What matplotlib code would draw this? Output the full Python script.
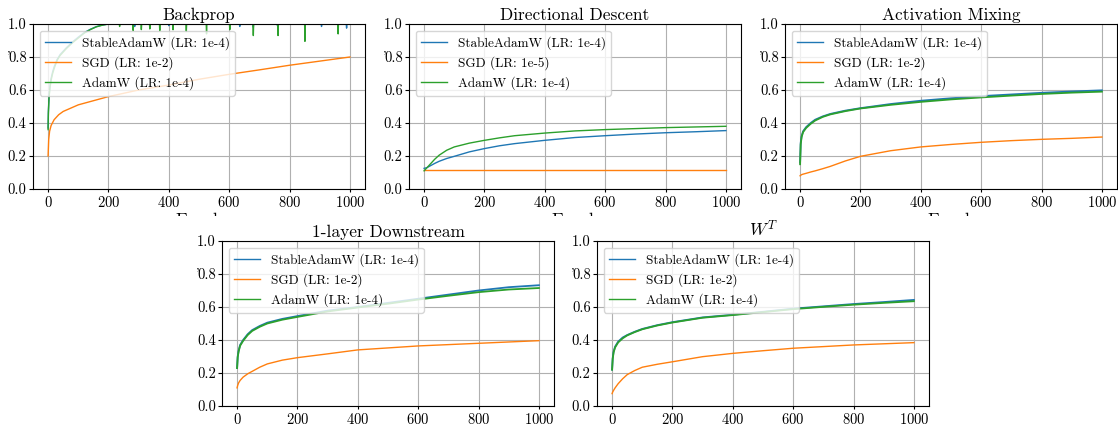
import matplotlib
matplotlib.use("Agg")
import matplotlib.pyplot as plt
from matplotlib.patches import Rectangle

plt.rcParams['font.family'] = 'serif'
plt.rcParams['font.serif'] = ['cmr10', 'DejaVu Serif']
plt.rcParams['mathtext.fontset'] = 'cm'
plt.rcParams['axes.formatter.use_mathtext'] = True
plt.rcParams['axes.unicode_minus'] = False

LABEL_STABLE = "StableAdamW (LR: 1e-4)"
LABEL_ADAMW = "AdamW (LR: 1e-4)"

# ---------------- Backprop ----------------
bp_title = "Backprop"
bp_sgd_label = "SGD (LR: 1e-2)"
bp_adam_epochs = [0, 1, 3, 6, 10, 15, 20, 30, 40, 50, 60, 80, 100, 120, 140, 160, 180, 200, 1000]
bp_stable_vals = [0.37, 0.47, 0.56, 0.62, 0.67, 0.71, 0.74, 0.785, 0.815, 0.835, 0.855, 0.89, 0.92, 0.948, 0.968, 0.984, 0.994, 1.0, 1.0]
bp_adamw_vals = [0.36, 0.46, 0.55, 0.61, 0.66, 0.70, 0.73, 0.78, 0.81, 0.83, 0.85, 0.885, 0.915, 0.945, 0.966, 0.983, 0.993, 1.0, 1.0]
bp_stable_spike_epochs = [287, 400, 635, 680, 760, 906, 989]
bp_stable_spike_vals = [0.985, 0.99, 0.985, 0.98, 0.99, 0.985, 0.975]
bp_adamw_spike_epochs = [237, 282, 309, 337, 370, 414, 458, 525, 602, 680, 762, 851, 961]
bp_adamw_spike_vals = [0.985, 0.96, 0.966, 0.97, 0.96, 0.965, 0.955, 0.94, 0.966, 0.93, 0.93, 0.895, 0.94]
bp_sgd_epochs = [0, 2, 5, 10, 20, 35, 50, 75, 100, 150, 200, 300, 400, 500, 600, 700, 800, 900, 1000]
bp_sgd_vals = [0.20, 0.30, 0.35, 0.385, 0.42, 0.45, 0.47, 0.49, 0.51, 0.535, 0.56, 0.60, 0.63, 0.665, 0.695, 0.722, 0.75, 0.775, 0.80]

# ---------------- Directional Descent ----------------
dd_title = "Directional Descent"
dd_sgd_label = "SGD (LR: 1e-5)"
dd_epochs = [0, 10, 20, 35, 50, 75, 100, 150, 200, 250, 300, 400, 500, 600, 700, 800, 900, 1000]
dd_stable_vals = [0.125, 0.13, 0.14, 0.155, 0.168, 0.185, 0.198, 0.225, 0.245, 0.262, 0.275, 0.295, 0.312, 0.323, 0.333, 0.341, 0.347, 0.354]
dd_adamw_vals = [0.11, 0.13, 0.15, 0.18, 0.205, 0.235, 0.255, 0.278, 0.295, 0.31, 0.323, 0.339, 0.352, 0.36, 0.366, 0.372, 0.376, 0.38]
dd_sgd_vals = [0.113] * len(dd_epochs)

# ---------------- Activation Mixing ----------------
am_title = "Activation Mixing"
am_sgd_label = "SGD (LR: 1e-2)"
am_epochs = [0, 2, 5, 10, 20, 35, 50, 75, 100, 150, 200, 300, 400, 500, 600, 700, 800, 900, 1000]
am_stable_vals = [0.16, 0.28, 0.32, 0.35, 0.375, 0.40, 0.42, 0.44, 0.455, 0.475, 0.49, 0.515, 0.535, 0.55, 0.563, 0.573, 0.583, 0.591, 0.598]
am_adamw_vals = [0.15, 0.27, 0.315, 0.345, 0.37, 0.395, 0.415, 0.437, 0.452, 0.472, 0.488, 0.51, 0.528, 0.543, 0.555, 0.566, 0.576, 0.584, 0.59]
am_sgd_vals = [0.08, 0.083, 0.087, 0.09, 0.095, 0.103, 0.11, 0.123, 0.137, 0.17, 0.198, 0.232, 0.255, 0.27, 0.283, 0.293, 0.301, 0.307, 0.315]

# ---------------- 1-layer Downstream ----------------
ld_title = "1-layer Downstream"
ld_sgd_label = "SGD (LR: 1e-2)"
ld_epochs = [0, 2, 5, 10, 20, 35, 50, 75, 100, 150, 200, 300, 400, 500, 600, 700, 800, 900, 1000]
ld_stable_vals = [0.23, 0.30, 0.335, 0.37, 0.40, 0.435, 0.46, 0.485, 0.505, 0.528, 0.545, 0.578, 0.60, 0.625, 0.65, 0.675, 0.70, 0.72, 0.732]
ld_adamw_vals = [0.23, 0.295, 0.33, 0.365, 0.395, 0.43, 0.455, 0.48, 0.50, 0.523, 0.54, 0.573, 0.597, 0.62, 0.645, 0.668, 0.69, 0.706, 0.715]
ld_sgd_vals = [0.11, 0.125, 0.14, 0.155, 0.175, 0.195, 0.21, 0.235, 0.255, 0.278, 0.293, 0.316, 0.34, 0.352, 0.364, 0.372, 0.38, 0.388, 0.396]

# ---------------- W^T ----------------
wt_title = "$W^T$"
wt_sgd_label = "SGD (LR: 1e-2)"
wt_epochs = [0, 2, 5, 10, 20, 35, 50, 75, 100, 150, 200, 300, 400, 500, 600, 700, 800, 900, 1000]
wt_stable_vals = [0.22, 0.29, 0.33, 0.36, 0.39, 0.415, 0.43, 0.45, 0.467, 0.49, 0.508, 0.537, 0.553, 0.571, 0.59, 0.604, 0.618, 0.63, 0.643]
wt_adamw_vals = [0.22, 0.285, 0.325, 0.355, 0.385, 0.41, 0.428, 0.448, 0.465, 0.488, 0.506, 0.535, 0.551, 0.569, 0.587, 0.601, 0.614, 0.625, 0.635]
wt_sgd_vals = [0.075, 0.085, 0.095, 0.11, 0.135, 0.165, 0.19, 0.215, 0.235, 0.253, 0.268, 0.299, 0.319, 0.335, 0.35, 0.36, 0.37, 0.377, 0.384]

C_BLUE, C_ORANGE, C_GREEN = '#1f77b4', '#ff7f0e', '#2ca02c'


def with_spikes(epochs, vals, spike_e, spike_v):
    pts = dict(zip(epochs, vals))
    for e, v in zip(spike_e, spike_v):
        pts[e - 1] = 1.0
        pts[e] = v
        pts[e + 1] = 1.0
    ks = sorted(pts)
    return ks, [pts[k] for k in ks]


W, H = 1118, 424
fig = plt.figure(figsize=(W / 100, H / 100), dpi=100)

ax_w = 332 / W
top_b, top_h = 1 - 189 / H, 165 / H
bot_b, bot_h = 1 - 406 / H, 165 / H
axes_top = [fig.add_axes([x / W, top_b, ax_w, top_h], zorder=0) for x in (33, 409, 785)]
axes_bot = [fig.add_axes([x / W, bot_b, ax_w, bot_h], zorder=2) for x in (222, 597)]

# white band hiding lower part of top-row x labels
fig.patches.append(Rectangle((0, 0), 1, 1 - 216 / H, transform=fig.transFigure,
                             facecolor='white', edgecolor='none', zorder=1))

panels = []
e1, v1 = with_spikes(bp_adam_epochs, bp_stable_vals, bp_stable_spike_epochs, bp_stable_spike_vals)
e2, v2 = with_spikes(bp_adam_epochs, bp_adamw_vals, bp_adamw_spike_epochs, bp_adamw_spike_vals)
panels.append((bp_title, [(e1, v1, LABEL_STABLE, C_BLUE), (bp_sgd_epochs, bp_sgd_vals, bp_sgd_label, C_ORANGE),
                          (e2, v2, LABEL_ADAMW, C_GREEN)]))
panels.append((dd_title, [(dd_epochs, dd_stable_vals, LABEL_STABLE, C_BLUE), (dd_epochs, dd_sgd_vals, dd_sgd_label, C_ORANGE),
                          (dd_epochs, dd_adamw_vals, LABEL_ADAMW, C_GREEN)]))
panels.append((am_title, [(am_epochs, am_stable_vals, LABEL_STABLE, C_BLUE), (am_epochs, am_sgd_vals, am_sgd_label, C_ORANGE),
                          (am_epochs, am_adamw_vals, LABEL_ADAMW, C_GREEN)]))
panels.append((ld_title, [(ld_epochs, ld_stable_vals, LABEL_STABLE, C_BLUE), (ld_epochs, ld_sgd_vals, ld_sgd_label, C_ORANGE),
                          (ld_epochs, ld_adamw_vals, LABEL_ADAMW, C_GREEN)]))
panels.append((wt_title, [(wt_epochs, wt_stable_vals, LABEL_STABLE, C_BLUE), (wt_epochs, wt_sgd_vals, wt_sgd_label, C_ORANGE),
                          (wt_epochs, wt_adamw_vals, LABEL_ADAMW, C_GREEN)]))

all_axes = axes_top + axes_bot
for i, (ax, (title, series)) in enumerate(zip(all_axes, panels)):
    for ep, vals, lab, col in series:
        lw = 1.0 if (i < 2 or col == C_ORANGE) else 1.3
        ax.plot(ep, vals, color=col, lw=lw, label=lab)
    ax.set_ylim(0, 1.0)
    ax.set_xlim(-50, 1050)
    ax.set_xticks([0, 200, 400, 600, 800, 1000])
    ax.set_yticks([0.0, 0.2, 0.4, 0.6, 0.8, 1.0])
    ax.set_yticklabels(['0.0', '0.2', '0.4', '0.6', '0.8', '1.0'])
    ax.tick_params(axis='x', labelsize=10.5, length=2.5, pad=1.5)
    ax.tick_params(axis='y', labelsize=10.5, length=3, pad=1.5)
    ax.grid(True, color='#b0b0b0', lw=0.8)
    ax.set_title(title, fontsize=12.5, pad=3)
    for line in ax.legend(loc='upper left', fontsize=9.5, borderaxespad=0.5).get_lines():
        line.set_linewidth(1.0)
    ax.text(-0.068, 0.835, "'", transform=ax.transAxes, ha='right', va='top', fontsize=10)
    if i < 3:
        ax.set_xlabel("Epoch", fontsize=12.5, labelpad=2)

fig.savefig("out.png", dpi=100)
